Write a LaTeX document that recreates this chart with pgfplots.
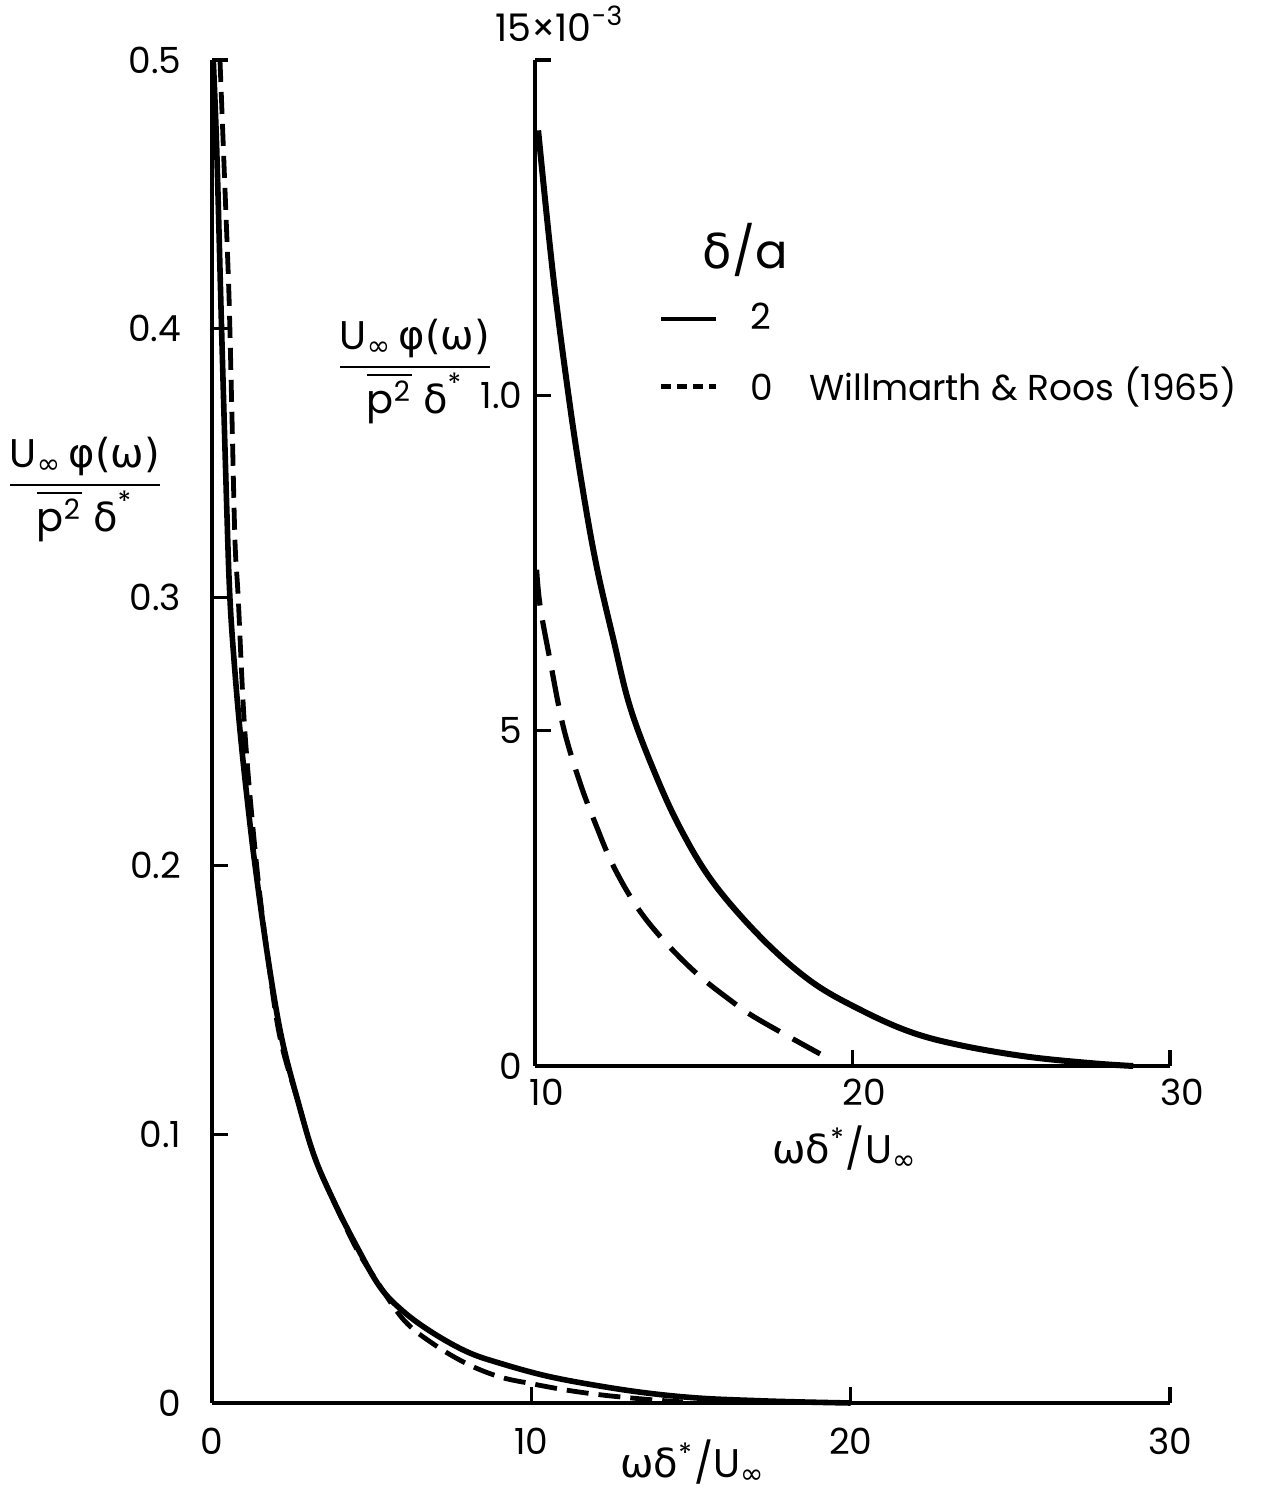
\documentclass[border=0pt]{standalone}
\usepackage{amsmath}
\usepackage{fontspec}
\setmainfont{Poppins}
\newfontfamily\gr{DejaVu Sans}
\usepackage{pgfplots}
\pgfplotsset{compat=1.18}

\pgfplotstableread{
x y
0.04 0.500
0.15 0.466
0.30 0.400
0.46 0.334
0.56 0.300
0.70 0.275
0.88 0.250
1.10 0.225
1.35 0.200
1.76 0.165
2.18 0.136
2.70 0.112
3.20 0.092
3.80 0.0755
4.50 0.059
5.26 0.0432
6.00 0.034
6.93 0.026
8.00 0.019
9.02 0.0148
10.5 0.0100
12.15 0.0063
13.7 0.0036
15.28 0.0018
17.0 0.0009
18.4 0.0004
20.0 0.0
}\mainsolid

\pgfplotstableread{
x y
0.25 0.500
0.38 0.460
0.51 0.420
0.56 0.400
0.63 0.365
0.72 0.321
0.82 0.300
1.03 0.250
1.40 0.200
1.76 0.165
2.13 0.136
2.70 0.112
3.20 0.092
3.80 0.0755
4.50 0.058
5.10 0.0465
6.00 0.031
6.93 0.022
8.00 0.0145
9.02 0.0097
10.0 0.0072
11.1 0.0048
12.2 0.0030
13.2 0.0018
14.0 0.0010
14.75 0.0004
}\maindashed

\pgfplotstableread{
x y
10.1 13.95
10.58 11.75
11.1 9.85
11.52 8.55
11.94 7.45
12.47 6.36
12.99 5.36
13.73 4.42
14.57 3.55
15.62 2.73
17.15 1.90
18.7 1.26
20.24 0.84
21.81 0.51
23.39 0.31
25.49 0.14
27.58 0.04
28.84 0.0
}\insetsolid

\pgfplotstableread{
x y
10.05 7.40
10.16 6.86
10.47 6.06
10.89 5.06
11.42 4.22
11.94 3.57
12.47 2.98
13.2 2.38
14.04 1.88
15.09 1.38
16.14 0.985
16.98 0.71
18.98 0.18
}\insetdashed

\begin{document}
\fontsize{9}{11}\selectfont
\begin{tikzpicture}
\useasboundingbox (-53pt,-23.5pt) rectangle (266pt,350.75pt);
\pgfplotsset{
  base/.style={
    scale only axis,
    axis x line*=bottom, axis y line*=left,
    axis line style={line width=0.8pt},
    tick style={line width=0.8pt, black},
    major tick length=4pt,
    tick align=inside,
    clip=false,
    ticklabel style={font=\fontsize{9}{10}\selectfont},
    label style={font=\fontsize{10}{12}\selectfont},
  }
}
\begin{axis}[base, at={(0,0)}, anchor=south west,
  width=239.5pt, height=335.75pt,
  xmin=0, xmax=30, ymin=0, ymax=0.5,
  xtick={0,10,20,30}, xticklabels={0,10,20,30},
  ytick={0,0.1,0.2,0.3,0.4,0.5}, yticklabels={0,0.1,0.2,0.3,0.4,0.5},
  yticklabel style={xshift=-4.5pt},
  xticklabel style={yshift=-3pt},
  xlabel={{\gr ωδ}\textsuperscript{*}/U\textsubscript{\gr ∞}},
  xlabel style={at={(axis description cs:0.502,-0.044)}, anchor=center},
  ylabel={$\dfrac{\text{U}_{\text{\gr ∞}}\,\text{\gr φ(ω)}}{\overline{\text{p}^{\text{2}}}\;\text{\gr δ}^{\text{*}}}$},
  ylabel style={at={(axis description cs:-0.1326,0.68)}, rotate=-90, anchor=center},
]
\addplot[black, line width=1.4pt, smooth, tension=0.6] table[x=x,y=y] {\mainsolid};
\addplot[black, line width=1.2pt, dash pattern=on 5.5pt off 2.5pt, smooth, tension=0.6] table[x=x,y=y] {\maindashed};
\end{axis}

\begin{axis}[base, at={(80.75pt,84.25pt)}, anchor=south west,
  width=158.75pt, height=251.5pt,
  xmin=10, xmax=30, ymin=0, ymax=15,
  xtick={10,20,30}, xticklabels={10,20,30},
  ytick={0,5,10,15}, yticklabels={0,5,1.0,{}},
  xticklabel style={xshift=3pt},
  xlabel={{\gr ωδ}\textsuperscript{*}/U\textsubscript{\gr ∞}},
  xlabel style={at={(axis description cs:0.488,-0.0815)}, anchor=center},
  ylabel={$\dfrac{\text{U}_{\text{\gr ∞}}\,\text{\gr φ(ω)}}{\overline{\text{p}^{\text{2}}}\;\text{\gr δ}^{\text{*}}}$},
  ylabel style={at={(axis description cs:-0.189,0.69)}, rotate=-90, anchor=center},
  legend style={at={(axis description cs:0.175,0.775)}, anchor=north west, draw=none, fill=none,
    font=\fontsize{9}{11}\selectfont, row sep=4pt},
  legend cell align=left,
  legend image code/.code={\draw[#1] (0pt,0pt) -- (13.75pt,0pt);},
]
\addplot[black, line width=1.5pt, smooth, tension=0.6, forget plot] table[x=x,y=y] {\insetsolid};
\addplot[black, line width=1.3pt, dash pattern=on 9pt off 3.75pt, smooth, tension=0.6, forget plot] table[x=x,y=y] {\insetdashed};
\addlegendimage{black, line width=1.2pt}
\addlegendentry{\hspace{6pt}2}
\addlegendimage{black, line width=1.2pt, dash pattern=on 2.5pt off 1.5pt}
\addlegendentry{\hspace{6pt}0\hspace{9pt}Willmarth \& Roos (1965)}
\node[font=\fontsize{12}{14}\selectfont] at (axis description cs:0.331,0.811) {{\gr δ}/a};
\node[font=\fontsize{9.5}{11}\selectfont] at (axis description cs:0.039,1.036) {15×10\textsuperscript{-3}};
\end{axis}
\end{tikzpicture}
\end{document}
